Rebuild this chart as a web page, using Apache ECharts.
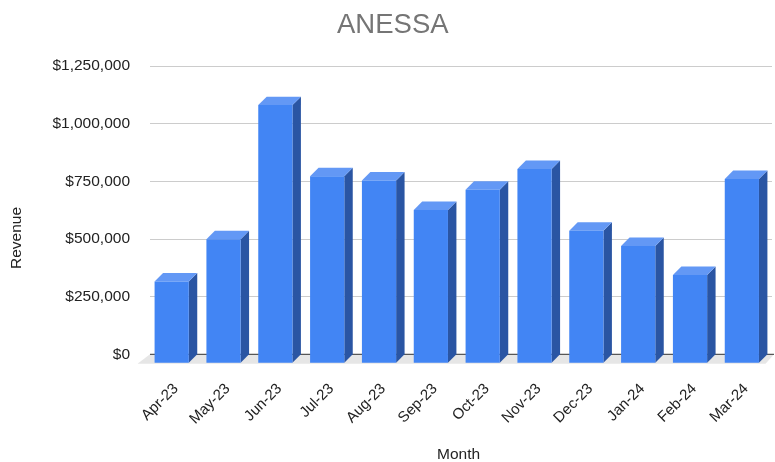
<!DOCTYPE html>
<html>
<head>
<meta charset="utf-8">
<script src="https://cdn.jsdelivr.net/npm/echarts@6/dist/echarts.min.js"></script>
<style>
html,body{margin:0;padding:0;background:#fff;}
#chart{width:775px;height:462px;}
</style>
</head>
<body>
<div id="chart"></div>
<script>
const categories = ['Apr-23','May-23','Jun-23','Jul-23','Aug-23','Sep-23','Oct-23','Nov-23','Dec-23','Jan-24','Feb-24','Mar-24'];
const revenue = [352000, 536000, 1117000, 809000, 790000, 662000, 750000, 840000, 572000, 506000, 381000, 797000];
const yTicks = [0, 250000, 500000, 750000, 1000000, 1250000];

const FONT = '"Liberation Sans", Arial, sans-serif';
const chart = echarts.init(document.getElementById('chart'), null, {renderer: 'canvas'});

function fmtMoney(v){
  return '$' + v.toString().replace(/\B(?=(\d{3})+(?!\d))/g, ',');
}

function renderBar(params, api){
  const i = api.value(0), v = api.value(1);
  const top = api.coord([i, v]);
  const base = api.coord([i, 0]);
  const bw = api.size([1, 0])[0];
  const fw = bw * 0.66;
  const d = bw * 0.163;
  const fx = top[0] - (fw + d) / 2;
  const ft = top[1] + d;
  const fb = base[1] + d;
  return {
    type: 'group',
    children: [
      {type: 'polygon', shape: {points: [[fx + fw, ft], [fx + fw + d, ft - d], [fx + fw + d, fb - d], [fx + fw, fb]]},
       style: {fill: '#2a55a3'}},
      {type: 'polygon', shape: {points: [[fx, ft], [fx + d, ft - d], [fx + fw + d, ft - d], [fx + fw, ft]]},
       style: {fill: '#6398f5'}},
      {type: 'rect', shape: {x: fx, y: ft, width: fw, height: fb - ft},
       style: {fill: '#4285f4'}}
    ]
  };
}

function renderFloor(params, api){
  const cs = params.coordSys;
  const base = api.coord([0, 0])[1];
  const bw = api.size([1, 0])[0];
  const d = bw * 0.163;
  return {
    type: 'group',
    children: [
      {type: 'polygon', shape: {points: [[cs.x, base], [cs.x + cs.width + 2, base], [cs.x + cs.width + 2 - d, base + d + 1], [cs.x - d - 4, base + d + 1]]},
       style: {fill: '#e6e6e6'}},
      {type: 'line', shape: {x1: cs.x, y1: base, x2: cs.x + cs.width + 2, y2: base},
       style: {stroke: '#333333', lineWidth: 1}}
    ]
  };
}

const option = {
  backgroundColor: '#ffffff',
  animation: false,
  title: {
    text: 'ANESSA', left: 332, top: 6,
    textStyle: {fontFamily: FONT, fontSize: 27.5, fontWeight: 'normal', color: '#757575'}
  },
  grid: {left: 150, right: 3, top: 66, bottom: 107.7, containLabel: false, outerBoundsMode: 'none'},
  xAxis: {
    type: 'category', data: categories,
    axisLine: {show: false}, axisTick: {show: false},
    axisLabel: {rotate: 45, margin: 32, fontFamily: FONT, fontSize: 15, color: '#222222', interval: 0}
  },
  yAxis: {
    type: 'value', min: yTicks[0], max: yTicks[yTicks.length - 1], interval: yTicks[1] - yTicks[0],
    axisLine: {show: false}, axisTick: {show: false},
    axisLabel: {formatter: fmtMoney, margin: 20, fontFamily: FONT, fontSize: 15.5, color: '#222222'},
    splitLine: {lineStyle: {color: '#cccccc', width: 1}}
  },
  graphic: [
    {type: 'text', left: 9, top: 207, rotation: Math.PI / 2,
     style: {text: 'Revenue', font: '15.5px ' + FONT, fill: '#222222'}},
    {type: 'text', left: 437, top: 447,
     style: {text: 'Month', font: '15.5px ' + FONT, fill: '#222222'}}
  ],
  series: [
    {type: 'custom', renderItem: renderFloor, data: [[0, 0]], z: 1, silent: true, clip: false},
    {type: 'custom', renderItem: renderBar, data: revenue.map((v, i) => [i, v]), z: 2, clip: false}
  ]
};
chart.setOption(option);
</script>
</body>
</html>
